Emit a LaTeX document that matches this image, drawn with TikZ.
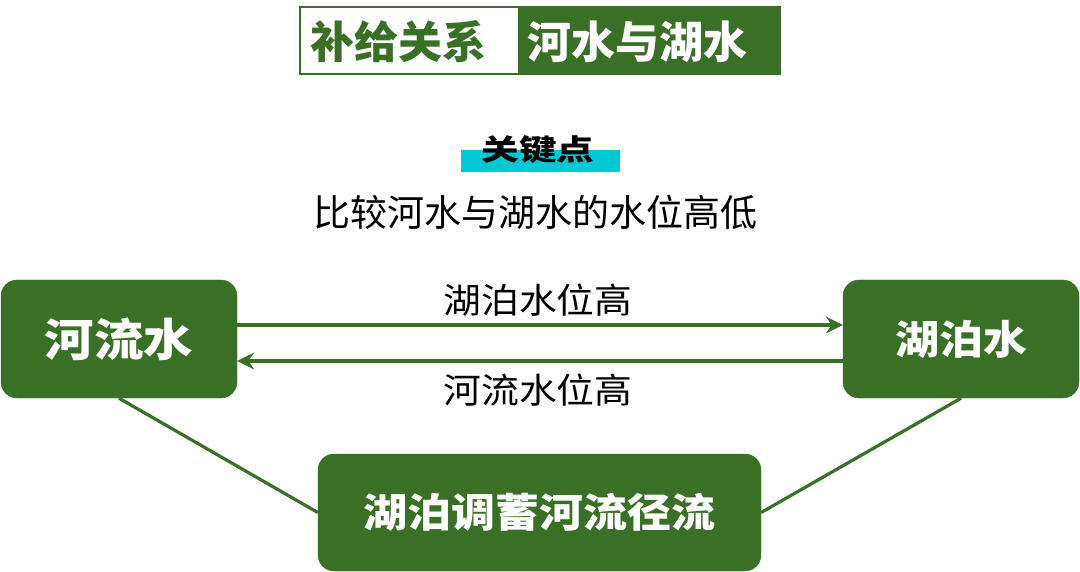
\documentclass[tikz,border=0pt]{standalone}
\usepackage{fontspec}
\newfontfamily\cjk{Noto Sans CJK SC}
\usetikzlibrary{arrows.meta}
\definecolor{gr}{RGB}{58,112,38}
\definecolor{cy}{RGB}{0,200,212}
\tikzset{
  box/.style={fill=gr, draw=gr, rounded corners=16pt, inner sep=0pt, text=white,
    font=\cjk\bfseries\fontsize{40}{48}\selectfont\addfontfeatures{FakeStretch=1.1}},
  lbl/.style={inner sep=0pt, text=black, font=\cjk\fontsize{35}{42}\selectfont\addfontfeatures{FakeStretch=1.08}},
  arr/.style={draw=gr, line width=3.5pt, -{Stealth[length=17pt,width=17pt,inset=6pt]}},
  link/.style={draw=gr, line width=3.2pt},
  ttlbox/.style={inner sep=0pt, minimum height=67pt},
  ttl/.style={inner sep=0pt, font=\cjk\bfseries\fontsize{44}{52}\selectfont}
}
\begin{document}
\begin{tikzpicture}[x=1pt,y=-1pt]
\useasboundingbox (0,0) rectangle (1080,572);
% title
\node[ttlbox, fill=white, minimum width=218pt] (tl) at (409,40.5) {};
\node[ttlbox, fill=gr, minimum width=262pt] (tr) at (649,40.5) {};
\draw[gr, line width=1.6pt] (tl.north west) rectangle (tr.south east);
\node[ttl, text=gr] (tlt) at (398,42) {补给关系};
\node[ttl, text=white] (trt) at (637,42) {河水与湖水};
% key point
\node[fill=cy, inner sep=0pt, minimum width=159pt, minimum height=22pt] (bar) at (540.5,161) {};
\node[inner sep=0pt, font=\cjk\bfseries\fontsize{29}{34}\selectfont\addfontfeatures{FakeStretch=1.3}] (key) at (538,150) {关键点};
\node[inner sep=0pt, font=\cjk\fontsize{37}{44}\selectfont] (sub) at (535,212) {比较河水与湖水的水位高低};
% boxes
\node[box, minimum width=236pt, minimum height=118pt,
  font=\cjk\bfseries\fontsize{45}{52}\selectfont\addfontfeatures{FakeStretch=1.1}] (river) at (119,339) {河流水};
\node[box, minimum width=236pt, minimum height=118pt] (lake) at (961,339) {湖泊水};
\node[box, minimum width=443pt, minimum height=117pt] (reg) at (539.5,512.5) {湖泊调蓄河流径流};
% arrows
\draw[arr] ([yshift=14pt]river.east) -- ([yshift=14pt]lake.west);
\draw[arr] ([yshift=-22pt]lake.west) -- ([yshift=-22pt]river.east);
\node[lbl] (l1) at (538,300) {湖泊水位高};
\node[lbl] (l2) at (538,390) {河流水位高};
% links
\draw[link] (river.south) -- (reg.west);
\draw[link] (lake.south) -- (reg.east);
\end{tikzpicture}
\end{document}
